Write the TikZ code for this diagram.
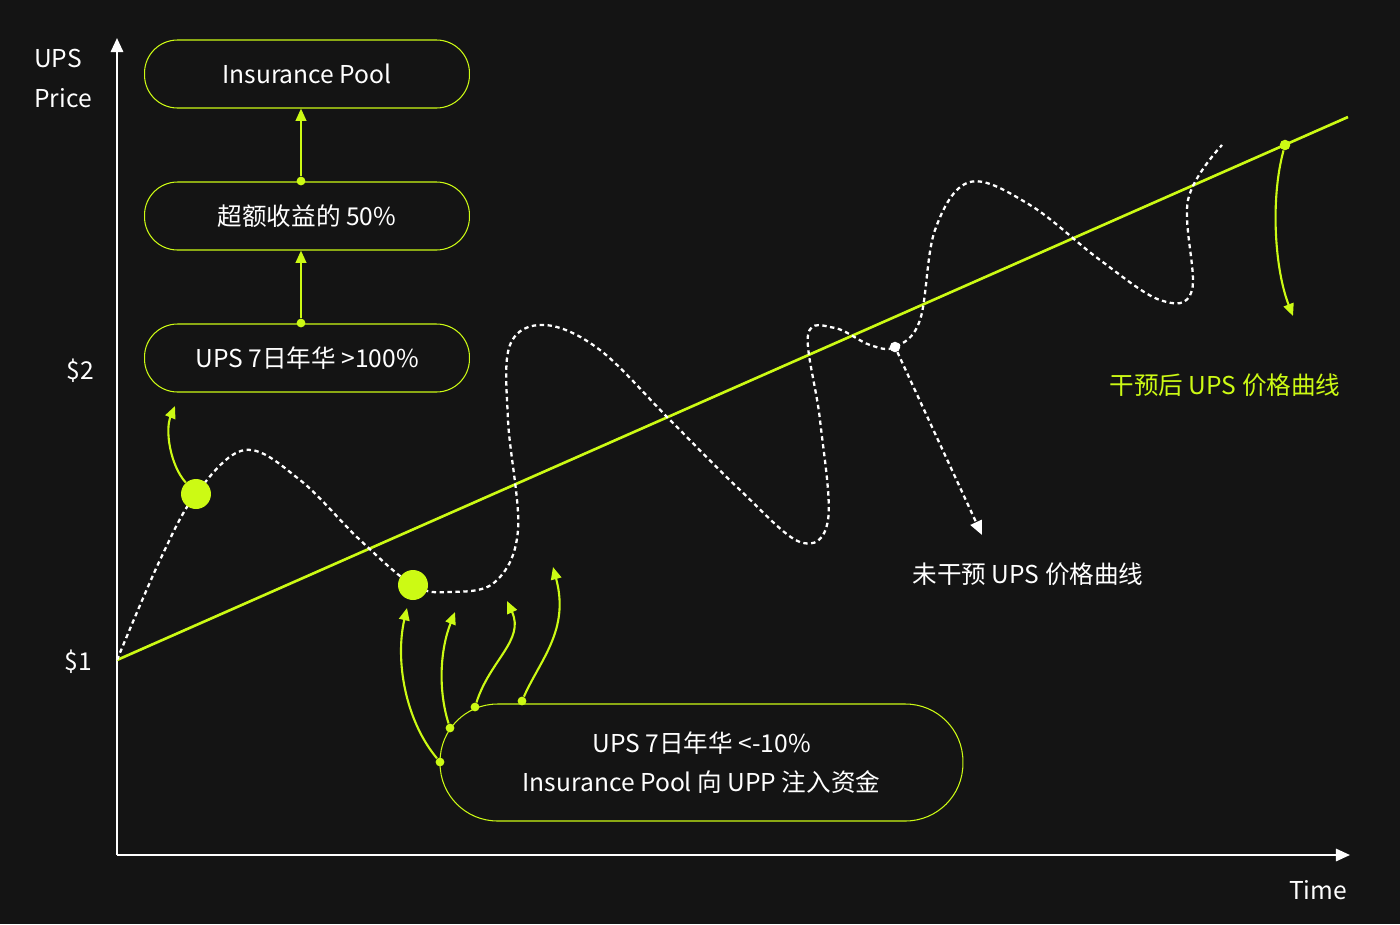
\documentclass[tikz,border=0pt]{standalone}
\usepackage{fontspec}
\setmainfont{Noto Sans CJK SC}
\usetikzlibrary{arrows.meta}
\definecolor{bg}{RGB}{20,20,20}
\definecolor{lime}{RGB}{204,250,20}
\begin{document}
\begin{tikzpicture}[x=0.02cm,y=-0.02cm,font=\fontsize{14}{18}\selectfont,
  pill/.style={draw=lime,line width=0.6pt,rounded corners=0.66cm,minimum width=6.5cm,minimum height=1.36cm,text=white},
  gdot/.style={circle,fill=lime,inner sep=0pt,minimum size=5pt},
  garr/.style={lime,line width=1.2pt,-{Triangle[length=7pt,width=6pt]}},
  wdash/.style={white,line width=1.3pt,dash pattern=on 2.5pt off 2pt},
  lbl/.style={text=white}]
\fill[bg] (0,0) rectangle (1400,924);
\useasboundingbox (0,0) rectangle (1400,924);
% axes
\coordinate (o) at (117,855);
\coordinate (ytop) at (117,38);
\coordinate (xend) at (1350,855);
\draw[white,line width=1.3pt,-{Triangle[length=8pt,width=7pt]}] (o) -- (ytop);
\draw[white,line width=1.3pt,-{Triangle[length=8pt,width=7pt]}] (o) -- (xend);
\node[lbl,anchor=west] (ups) at (28,58) {UPS};
\node[lbl,anchor=west] (price) at (28,98) {Price};
\node[lbl] (p2) at (80,371) {\$2};
\node[lbl] (p1) at (78,662) {\$1};
\node[lbl] (time) at (1318,890) {Time};
% green trend line
\coordinate (g0) at (117,660);
\coordinate (g1) at (1348,117);
\draw[lime,line width=1.5pt] (g0) -- (g1);
% white dashed curve
\draw[wdash] plot[smooth,tension=0.6] coordinates {
(117,660) (160,560) (196,494) (245,450) (300,480) (360,540) (413,585) (450,592) (495,582) (518,530) (508,420) (510,345) (545,325) (600,350) (670,420) (740,490) (800,542) (828,520) (820,420) (808,335) (835,328) (870,345) (895,347) (920,320) (935,230) (970,182) (1030,205) (1100,260) (1160,300) (1192,290) (1188,200) (1222,145)};
% upper boxes
\node[pill] (ip) at (307,74) {Insurance Pool};
\node[pill] (ex) at (307,216) {超额收益的 50\%};
\node[pill] (hi) at (307,358) {UPS 7日年华 >100\%};
\node[gdot] (d1) at (301,181) {};
\node[gdot] (d2) at (301,323) {};
\draw[garr] (d1) -- (ip.south -| d1);
\draw[garr] (d2) -- (ex.south -| d2);
% bottom box
\node[draw=lime,line width=0.6pt,rounded corners=1.15cm,minimum width=10.46cm,minimum height=2.34cm,text=white,align=center,font=\fontsize{14}{22}\selectfont] (lo) at (701.5,762.5) {UPS 7日年华 <-10\%\\Insurance Pool 向 UPP 注入资金};
\node[gdot] (b1) at (440,762) {};
\node[gdot] (b2) at (450,728) {};
\node[gdot] (b3) at (475,707) {};
\node[gdot] (b4) at (522,701) {};
\coordinate (t1) at (407,608);
\coordinate (t2) at (455,612);
\coordinate (t3) at (507,601);
\coordinate (t4) at (553,567);
\draw[garr] (b1) .. controls (405,720) and (395,660) .. (t1);
\draw[garr] (b2) .. controls (438,690) and (440,650) .. (t2);
\draw[garr] (b3) .. controls (490,660) and (525,640) .. (t3);
\draw[garr] (b4) .. controls (540,660) and (570,630) .. (t4);
% big dots
\node[circle,fill=lime,inner sep=0pt,minimum size=0.6cm] (bd1) at (196,494) {};
\node[circle,fill=lime,inner sep=0pt,minimum size=0.6cm] (bd2) at (413,585) {};
\coordinate (t0) at (175,406);
\draw[garr] (bd1) .. controls (170,465) and (165,430) .. (t0);
% white dot & arrow
\node[circle,fill=white,inner sep=0pt,minimum size=6pt] (wd) at (895,347) {};
\coordinate (wt) at (982,535);
\draw[wdash,-{Triangle[length=8pt,width=7pt]}] (wd) -- (wt);
\node[lbl] (l1) at (1028,574) {未干预 UPS 价格曲线};
% green dot on line
\node[gdot,minimum size=6pt] (gd) at (1285,145) {};
\coordinate (gt) at (1293,316);
\draw[garr] (gd) .. controls (1270,200) and (1275,270) .. (gt);
\node[text=lime] (l2) at (1225,385) {干预后 UPS 价格曲线};
\end{tikzpicture}
\end{document}
